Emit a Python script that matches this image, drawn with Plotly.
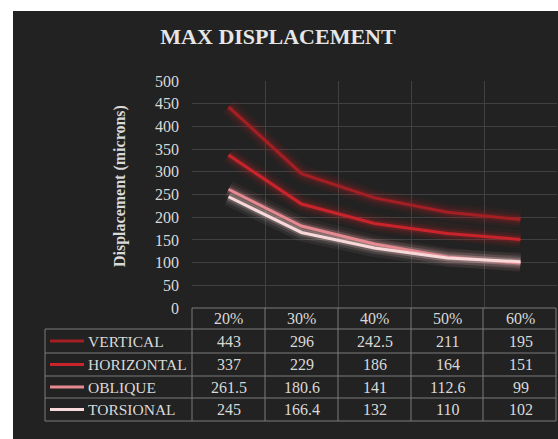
import plotly.graph_objects as go

# Data
categories = ["20%", "30%", "40%", "50%", "60%"]
series_names = ["VERTICAL", "HORIZONTAL", "OBLIQUE", "TORSIONAL"]
vertical = [443, 296, 242.5, 211, 195]
horizontal = [337, 229, 186, 164, 151]
oblique = [261.5, 180.6, 141, 112.6, 99]
torsional = [245, 166.4, 132, 110, 102]
value_labels = [
    ["443", "296", "242.5", "211", "195"],
    ["337", "229", "186", "164", "151"],
    ["261.5", "180.6", "141", "112.6", "99"],
    ["245", "166.4", "132", "110", "102"],
]
series_values = [vertical, horizontal, oblique, torsional]
series_colors = ["#a31f24", "#c9242c", "#e58a90", "#f8d9d9"]
glow_colors = ["rgba(200,30,35,{a})", "rgba(215,35,40,{a})",
               "rgba(240,150,155,{a})", "rgba(255,225,225,{a})"]

W, H = 558, 439
L, R, T, B = 192, 1, 81, 131
PW, PH = W - L - R, H - T - B
BG = "#222222"
TXT = "#d9d9d9"
FONT = "Liberation Serif"


def px_x(px):
    return (px - L) / PW


def px_y(py):
    return 1 - (py - T) / PH


fig = go.Figure()

# soft glow beneath each line, then the line itself
for vals, col, gcol in zip(series_values, series_colors, glow_colors):
    for w, a in [(18, 0.06), (12, 0.10), (7, 0.18)]:
        fig.add_trace(go.Scatter(x=categories, y=vals, mode="lines",
                                 line=dict(color=gcol.format(a=a), width=w),
                                 hoverinfo="skip", showlegend=False))
for name, vals, col in zip(series_names, series_values, series_colors):
    fig.add_trace(go.Scatter(x=categories, y=vals, mode="lines", name=name,
                             line=dict(color=col, width=3), showlegend=False))

shapes = []
annotations = []

# white strips around the dark chart area
shapes.append(dict(type="rect", xref="paper", yref="paper",
                   x0=px_x(0), x1=px_x(W), y0=px_y(0), y1=px_y(11),
                   fillcolor="white", line=dict(width=0), layer="above"))
shapes.append(dict(type="rect", xref="paper", yref="paper",
                   x0=px_x(0), x1=px_x(13), y0=px_y(0), y1=px_y(H),
                   fillcolor="white", line=dict(width=0), layer="above"))

# data table under the plot
col_edges = [192, 265, 338, 411, 483, 556]
row_edges = [308, 329, 353, 376, 398, 421]
tbl_left = 45
grid_col = "#7a7a7a"
for i, yy in enumerate(row_edges):
    x0 = col_edges[0] if i == 0 else tbl_left
    shapes.append(dict(type="line", xref="paper", yref="paper",
                       x0=px_x(x0), x1=px_x(col_edges[-1]),
                       y0=px_y(yy), y1=px_y(yy),
                       line=dict(color=grid_col, width=1)))
for xx in col_edges:
    shapes.append(dict(type="line", xref="paper", yref="paper",
                       x0=px_x(xx), x1=px_x(xx),
                       y0=px_y(row_edges[0]), y1=px_y(row_edges[-1]),
                       line=dict(color=grid_col, width=1)))
shapes.append(dict(type="line", xref="paper", yref="paper",
                   x0=px_x(tbl_left), x1=px_x(tbl_left),
                   y0=px_y(row_edges[1]), y1=px_y(row_edges[-1]),
                   line=dict(color=grid_col, width=1)))

# header row with the categories
for c in categories:
    annotations.append(dict(x=c, xref="x", y=px_y((row_edges[0] + row_edges[1]) / 2),
                            yref="paper", text=c, showarrow=False,
                            xanchor="center", yanchor="middle",
                            font=dict(family=FONT, size=16, color=TXT)))

# series rows: legend key, name, values
for r, (name, col, labels) in enumerate(zip(series_names, series_colors, value_labels)):
    yc = (row_edges[r + 1] + row_edges[r + 2]) / 2
    shapes.append(dict(type="line", xref="paper", yref="paper",
                       x0=px_x(50), x1=px_x(84), y0=px_y(yc), y1=px_y(yc),
                       line=dict(color=col, width=3)))
    annotations.append(dict(x=px_x(86), xref="paper", y=px_y(yc), yref="paper",
                            text=name, showarrow=False, xanchor="left",
                            yanchor="middle",
                            font=dict(family=FONT, size=15.5, color=TXT)))
    for c, lab in zip(categories, labels):
        annotations.append(dict(x=c, xref="x", y=px_y(yc), yref="paper",
                                text=lab, showarrow=False,
                                xanchor="center", yanchor="middle",
                                font=dict(family=FONT, size=16, color=TXT)))

# axis title
annotations.append(dict(x=px_x(120), xref="paper", y=px_y(186), yref="paper",
                        text="<b>Displacement (microns)</b>", showarrow=False,
                        textangle=-90, xanchor="center", yanchor="middle",
                        font=dict(family=FONT, size=16, color=TXT)))

fig.update_layout(
    width=W, height=H,
    margin=dict(l=L, r=R, t=T, b=B),
    paper_bgcolor=BG, plot_bgcolor=BG,
    title=dict(text="<b>MAX DISPLACEMENT</b>", x=278 / W, xref="container",
               xanchor="center", y=1 - 36 / H, yanchor="middle",
               font=dict(family=FONT, size=22, color="#e6e6e6")),
    xaxis=dict(type="category", range=[-0.5, 4.5], tickson="boundaries",
               showgrid=True, gridcolor="#404040", gridwidth=1,
               showticklabels=False, ticks="", zeroline=False, showline=False),
    yaxis=dict(range=[0, 500], dtick=50, showgrid=True, gridcolor="#404040",
               gridwidth=1, zeroline=False, showline=False, ticks="",
               ticklabelstandoff=12,
               tickfont=dict(family=FONT, size=16, color=TXT)),
    shapes=shapes,
    annotations=annotations,
)

fig.write_html("out.html")
